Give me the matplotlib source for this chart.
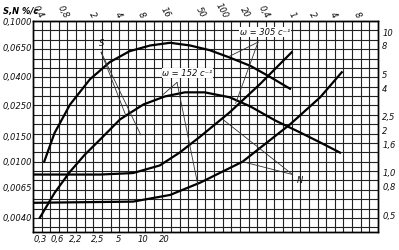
import numpy as np
import matplotlib.pyplot as plt

# Curvas (x en divisiones de la cuadricula, y en escala log)
s305_x = [1.3, 2.5, 4.3, 6.6, 8.9, 11.2, 13.6, 15.9, 18.2, 20.5, 22.8, 25.2, 27.5, 29.8]
s305_y = [0.0100, 0.0160, 0.0255, 0.0385, 0.051, 0.061, 0.067, 0.070, 0.067, 0.062, 0.055, 0.048, 0.040, 0.033]

s152_x = [0.8, 2.5, 4.3, 6.0, 7.8, 10.1, 12.8, 15.3, 17.6, 19.9, 22.8, 25.2, 28.1, 31.0, 33.3, 35.6]
s152_y = [0.0040, 0.0060, 0.0085, 0.0112, 0.0144, 0.0200, 0.0255, 0.0291, 0.0311, 0.0311, 0.0287, 0.0247, 0.0196, 0.0161, 0.0137, 0.0116]

n305_x = [0.0, 7.8, 11.6, 14.7, 17.0, 19.4, 22.8, 26.3, 30.0]
n305_y = [0.0081, 0.0081, 0.0083, 0.0094, 0.0116, 0.0151, 0.0224, 0.0355, 0.060]

n152_x = [0.0, 11.6, 15.9, 19.4, 24.3, 29.8, 33.3, 35.8]
n152_y = [0.0051, 0.0052, 0.0058, 0.0071, 0.0100, 0.0184, 0.0287, 0.0432]

# Etiquetas de ejes
left_ticks = [0.1000, 0.0650, 0.0400, 0.0250, 0.0150, 0.0100, 0.0065, 0.0040]
left_labels = ['0,1000', '0,0650', '0,0400', '0,0250', '0,0150', '0,0100', '0,0065', '0,0040']
right_ticks = [10, 8, 5, 4, 2.5, 2, 1.6, 1.0, 0.8, 0.5]
right_labels = ['10', '8', '5', '4', '2,5', '2', '1,6', '1,0', '0,8', '0,5']
bottom_pos = [0.8, 2.8, 4.9, 7.5, 9.9, 12.8, 15.2]
bottom_labels = ['0,3', '0,6', '2,2', '2,5', '5', '10', '20']
top_pos = [0.6, 3.5, 6.9, 9.9, 12.6, 15.3, 19.4, 21.9, 24.6, 26.8, 30.0, 32.4, 34.8, 37.6]
top_labels = ['0,4', '0,8', '2', '4', '8', '16', '50', '100', '20', '0,4', '1', '2', '4', '8']

ymin, ymax = 10 ** -2.5, 0.1
k = 120.0  # relacion escala derecha / izquierda

fig = plt.figure(figsize=(3.99, 2.5), dpi=100)
ax = fig.add_axes([0.0827, 0.072, 0.8646, 0.844])
ax.set_yscale('log')
ax.set_xlim(0, 40)
ax.set_ylim(ymin, ymax)

# cuadricula
for i in range(1, 40):
    ax.axvline(i, color='#222222', lw=0.8, zorder=1)
step = 1.5 / 22.5
for j in range(1, 23):
    ax.axhline(10 ** (-1 - j * step), color='#222222', lw=0.8, zorder=1)

# curvas
for xs, ys in [(s305_x, s305_y), (s152_x, s152_y), (n305_x, n305_y), (n152_x, n152_y)]:
    ax.plot(xs, ys, color='black', lw=1.6, zorder=3)

fnt = dict(fontsize=6, style='italic', color='#111111')

ax.set_yticks(left_ticks)
ax.set_yticklabels(left_labels, **fnt)
ax.yaxis.set_minor_locator(plt.NullLocator())
ax.tick_params(axis='y', length=0, pad=1)

ax.set_xticks(bottom_pos)
ax.set_xticklabels(bottom_labels, **fnt)
ax.tick_params(axis='x', length=0, pad=2)

axt = ax.secondary_xaxis('top')
axt.set_xticks(top_pos)
axt.set_xticklabels(top_labels, rotation=-60, ha='center', va='bottom', **fnt)
axt.tick_params(length=0, pad=1)

axr = ax.twinx()
axr.set_yscale('log')
axr.set_ylim(ymin * k, ymax * k)
axr.set_yticks(right_ticks)
axr.set_yticklabels(right_labels, **fnt)
axr.yaxis.set_minor_locator(plt.NullLocator())
axr.tick_params(axis='y', length=0, pad=3)

for a in (ax, axr):
    for sp in a.spines.values():
        sp.set_linewidth(1.0)

fig.text(0.008, 0.945, 'S,N %/c', fontsize=6, style='italic', weight='bold')

# anotaciones
ax.text(7.7, 0.066, 'S', **fnt, zorder=5)
for tx, ty in [(10.8, 0.021), (12.5, 0.0155)]:
    ax.plot([7.9, tx], [0.060, ty], color='#333333', lw=0.6, zorder=4)

ax.text(15.0, 0.0425, 'ω = 152 c⁻¹', **fnt, zorder=5, va='center',
        bbox=dict(facecolor='white', edgecolor='none', pad=0.5))
for tx, ty in [(15.1, 0.0301), (19.1, 0.0069)]:
    ax.plot([16.7, tx], [0.0366, ty], color='#333333', lw=0.6, zorder=4)

ax.text(24.0, 0.0834, 'ω = 305 c⁻¹', **fnt, zorder=5, va='center',
        bbox=dict(facecolor='white', edgecolor='none', pad=0.5))
for tx, ty in [(22.8, 0.0562), (23.5, 0.026)]:
    ax.plot([26.1, tx], [0.0708, ty], color='#333333', lw=0.6, zorder=4)

ax.text(30.6, 0.0074, 'N', **fnt, zorder=5, va='center')
for tx, ty in [(22.0, 0.020), (24.3, 0.0100)]:
    ax.plot([30.1, tx], [0.0081, ty], color='#333333', lw=0.6, zorder=4)

fig.savefig('out.png', dpi=100)
